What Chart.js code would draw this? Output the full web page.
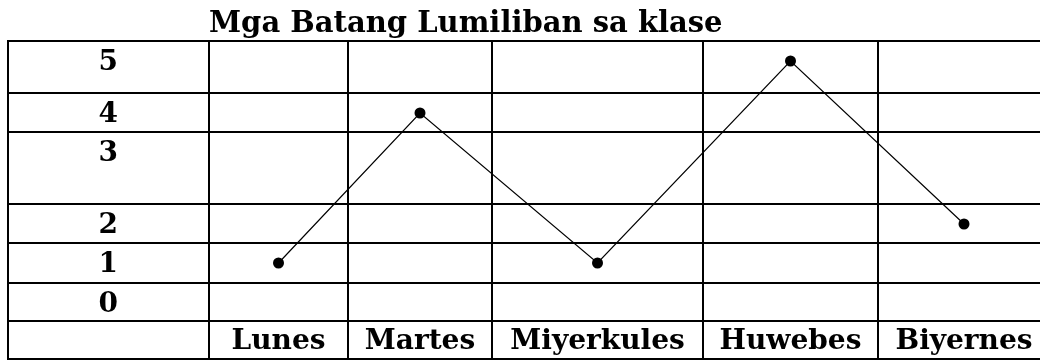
<!DOCTYPE html>
<html>
<head>
<meta charset="utf-8">
<title>Mga Batang Lumiliban sa klase</title>
<script src="https://cdn.jsdelivr.net/npm/chart.js@4"></script>
<style>
  html, body { margin: 0; padding: 0; background: #fff; }
  #wrap { width: 1040px; height: 360px; }
</style>
</head>
<body>
<div id="wrap"><canvas id="absentChart"></canvas></div>
<script>
// ========== DATA ==========
const DAYS = ['Lunes', 'Martes', 'Miyerkules', 'Huwebes', 'Biyernes'];
const ABSENT = [1, 4, 1, 5, 2];
const Y_TICKS = [0, 1, 2, 3, 4, 5];
const TITLE = 'Mga Batang Lumiliban sa klase';

// ========== TABLE LAYOUT ==========
// column widths of the day cells, row heights from 5 down to 0
const COL_W = [139, 144, 211, 175, 172];
const ROW_H = [52, 39, 72, 39, 40, 38];
const ROW_PAD = 20;
const FONT = { family: '"DejaVu Serif", serif', size: 28, weight: 'bold', lineHeight: 1 };

// y scale: each value sits near the top of its own table row
class RowScale extends Chart.LinearScale {
    static id = 'rows';
    anchor(k) {
        const order = Y_TICKS.slice().sort((a, b) => b - a);
        const i = Math.max(0, order.indexOf(k));
        let y = this.top;
        for (let j = 0; j < i; j++) y += ROW_H[j];
        return y + ROW_PAD;
    }
    getPixelForValue(v) {
        v = Math.min(Math.max(v, Y_TICKS[0]), Y_TICKS[Y_TICKS.length - 1]);
        const lo = Math.floor(v), hi = Math.ceil(v);
        if (lo === hi) return this.anchor(lo);
        return this.anchor(lo) + (this.anchor(hi) - this.anchor(lo)) * (v - lo);
    }
    // labels sit a touch lower than the dots
    getPixelForTick(index) {
        return this.getPixelForValue(this.ticks[index].value) + 2;
    }
    rowLines() {
        const ys = [this.top];
        let y = this.top;
        ROW_H.forEach(h => { y += h; ys.push(y); });
        return ys;
    }
}

// x scale: each day sits in the middle of its own (uneven) column
class ColScale extends Chart.CategoryScale {
    static id = 'cols';
    getPixelForValue(value) {
        const i = typeof value === 'number' ? value : this.parse(value);
        let x = this.left;
        for (let k = 0; k < i; k++) x += COL_W[k];
        return x + COL_W[i] / 2;
    }
    colLines() {
        const xs = [this.left];
        let x = this.left;
        COL_W.forEach(w => { x += w; xs.push(x); });
        return xs;
    }
}
Chart.register(RowScale, ColScale);

// ========== TABLE GRID ==========
const tableGrid = {
    id: 'tableGrid',
    beforeDatasetsDraw(chart) {
        const { ctx, scales: { x, y } } = chart;
        const left = y.left, right = chart.width, top = y.top, bottom = x.bottom;
        ctx.save();
        ctx.strokeStyle = '#000';
        ctx.lineWidth = 2;
        ctx.beginPath();
        y.rowLines().concat([bottom]).forEach(py => {
            ctx.moveTo(left - 1, py);
            ctx.lineTo(right, py);
        });
        [left].concat(x.colLines()).forEach(px => {
            ctx.moveTo(px, top);
            ctx.lineTo(px, bottom);
        });
        ctx.stroke();
        ctx.restore();
    }
};

const noPad = s => { s.paddingTop = 0; s.paddingBottom = 0; s.paddingLeft = 0; s.paddingRight = 0; };

// ========== CHART ==========
new Chart(document.getElementById('absentChart'), {
    type: 'line',
    data: {
        labels: DAYS,
        datasets: [{
            label: TITLE,
            data: ABSENT,
            borderColor: '#000',
            borderWidth: 1.2,
            tension: 0,
            pointRadius: 5.5,
            pointBorderWidth: 0,
            pointBackgroundColor: '#000',
            clip: false
        }]
    },
    options: {
        responsive: true,
        maintainAspectRatio: false,
        animation: false,
        events: [],
        layout: { padding: { left: 8, top: 0, right: 0, bottom: 1 } },
        plugins: {
            legend: { display: false },
            tooltip: { enabled: false },
            title: {
                display: true,
                text: TITLE,
                align: 'start',
                fullSize: false,
                color: '#000',
                font: { ...FONT, size: 29 },
                padding: { top: 10, bottom: 2 }
            }
        },
        scales: {
            x: {
                type: 'cols',
                grid: { display: false, drawTicks: false },
                border: { display: false },
                ticks: {
                    color: '#000',
                    font: FONT,
                    padding: 7,
                    autoSkip: false,
                    maxRotation: 0,
                    minRotation: 0
                },
                afterFit: s => { s.height = 38; noPad(s); }
            },
            y: {
                type: 'rows',
                min: 0,
                max: 5,
                grid: { display: false, drawTicks: false },
                border: { display: false },
                afterBuildTicks: s => { s.ticks = Y_TICKS.map(v => ({ value: v })); },
                ticks: {
                    color: '#000',
                    font: FONT,
                    crossAlign: 'center',
                    padding: 91
                },
                afterFit: s => { s.width = 201; noPad(s); }
            }
        }
    },
    plugins: [tableGrid]
});
</script>
</body>
</html>
